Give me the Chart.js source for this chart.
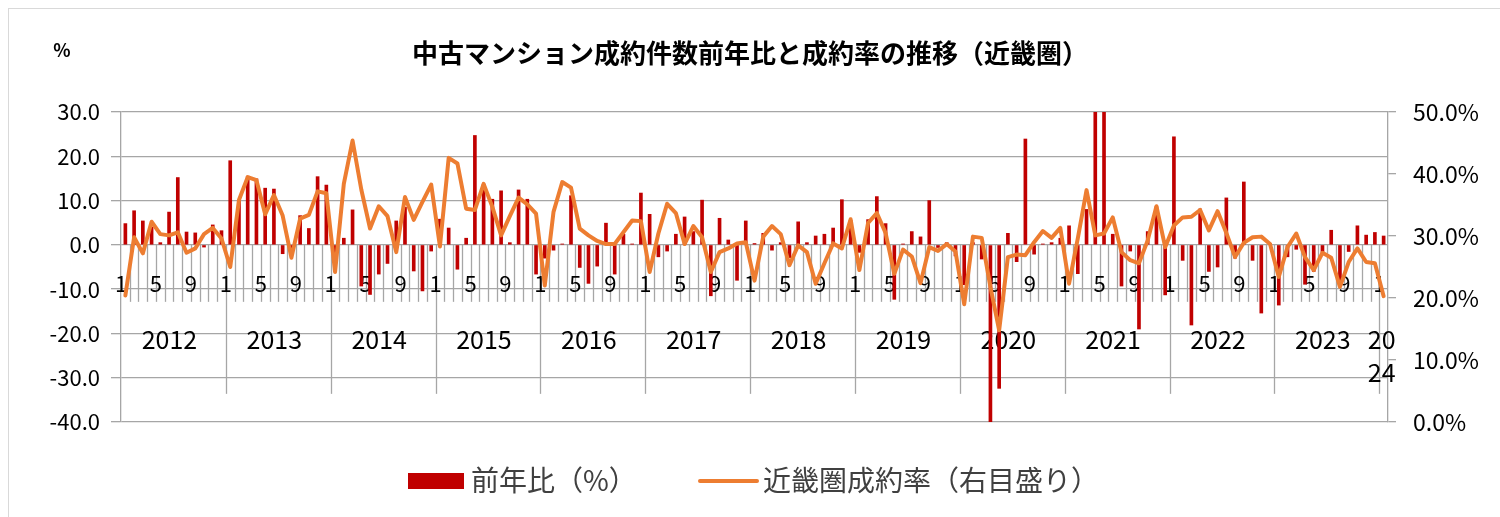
<!DOCTYPE html>
<html>
<head>
<meta charset="utf-8">
<script src="https://cdn.jsdelivr.net/npm/chart.js@4.4.1/dist/chart.umd.min.js"></script>
<style>
  html, body { margin: 0; padding: 0; background: #fff; }
  #wrap { position: relative; width: 1500px; height: 517px; }
</style>
</head>
<body>
<div id="wrap"><canvas id="myChart" width="1500" height="517"></canvas></div>
<script>
// years shown on the category axis (Jan 2012 .. Jan 2024)
const years = ['2012', '2013', '2014', '2015', '2016', '2017', '2018', '2019', '2020', '2021', '2022', '2023', '2024'];
const monthTicks = ['1', '5', '9'];
const leftTicks = [30, 20, 10, 0, -10, -20, -30, -40];
const rightTicks = [50, 40, 30, 20, 10, 0];

// 前年比（%） monthly, one row per year
const yoy2012 = [4.8, 7.7, 5.4, 4.0, 0.5, 7.4, 15.2, 2.9, 2.7, -0.5, 4.5, 3.2];
const yoy2013 = [19.0, 10.0, 15.5, 14.9, 12.8, 12.6, -2.0, -1.0, 6.6, 3.7, 15.4, 13.5];
const yoy2014 = [-2.0, 1.5, 7.9, -9.3, -11.2, -6.6, -4.2, 5.4, 8.5, -5.9, -10.4, -1.4];
const yoy2015 = [5.8, 3.8, -5.5, 1.5, 24.7, 13.7, 10.3, 12.2, 0.5, 12.4, 10.3, -6.6];
const yoy2016 = [-3.0, -1.2, 0.2, 11.1, -5.1, -8.7, -4.8, 4.9, -6.6, 2.4, 0.2, 11.7];
const yoy2017 = [6.9, -2.7, -1.4, 2.4, 6.3, 3.0, 10.1, -11.5, 6.0, 1.1, -8.0, 5.4];
const yoy2018 = [0.3, 2.6, -1.2, 0.5, -2.9, 5.2, 0.5, 2.0, 2.4, 3.8, 10.2, 5.5];
const yoy2019 = [-1.7, 5.7, 10.9, 4.8, -12.3, 0.2, 3.0, 1.8, 10.0, -0.6, 0.5, -2.5];
const yoy2020 = [-9.0, 0.5, -3.2, -40.5, -32.4, 2.6, -3.8, 23.9, -2.1, 0.2, 0.5, 1.5];
const yoy2021 = [4.3, -6.5, 8.0, 56.0, 42.0, 2.4, -9.3, -1.4, -19.0, 3.0, 8.6, -11.3];
const yoy2022 = [24.4, -3.5, -18.1, 8.1, -6.0, -5.0, 10.6, -3.0, 14.2, -3.5, -15.4, 0.3];
const yoy2023 = [-13.6, -2.7, -1.0, -8.9, -6.0, -1.7, 3.3, -8.9, -1.5, 4.3, 2.2, 2.8];
const yoy2024 = [2.0];

// 近畿圏成約率 (%) monthly
const rate2012 = [20.4, 29.8, 27.2, 32.3, 30.3, 30.1, 30.6, 27.3, 28.0, 30.3, 31.3, 29.6];
const rate2013 = [25.0, 35.8, 39.5, 39.0, 33.5, 36.6, 33.3, 26.5, 32.8, 33.4, 37.2, 36.9];
const rate2014 = [24.2, 38.4, 45.4, 37.5, 31.2, 34.8, 33.2, 27.4, 36.3, 32.6, 35.5, 38.3];
const rate2015 = [28.3, 42.6, 41.7, 34.4, 34.2, 38.4, 34.7, 30.1, 33.2, 36.2, 35.1, 33.6];
const rate2016 = [22.0, 33.9, 38.7, 37.8, 31.2, 30.1, 29.2, 28.7, 28.7, 30.6, 32.5, 32.4];
const rate2017 = [24.2, 30.4, 35.2, 33.7, 28.7, 31.6, 29.8, 24.2, 27.4, 28.0, 28.8, 29.0];
const rate2018 = [22.8, 29.9, 31.6, 30.3, 25.3, 28.5, 27.4, 22.3, 25.6, 28.8, 28.0, 32.7];
const rate2019 = [24.5, 32.1, 33.7, 30.5, 23.9, 27.8, 26.7, 22.4, 28.2, 27.6, 28.7, 27.5];
const rate2020 = [19.0, 29.9, 29.7, 21.8, 14.8, 26.6, 27.0, 26.9, 29.0, 30.8, 29.7, 31.3];
const rate2021 = [22.3, 29.6, 37.4, 30.1, 30.4, 33.0, 27.4, 26.1, 25.6, 29.3, 34.8, 28.2];
const rate2022 = [31.7, 33.0, 33.1, 34.2, 30.9, 34.0, 30.5, 26.6, 28.9, 29.8, 29.9, 28.7];
const rate2023 = [23.4, 28.2, 30.4, 26.6, 24.5, 27.3, 26.5, 21.8, 25.8, 28.0, 25.8, 25.6];
const rate2024 = [20.3];

const yoyData = [].concat(yoy2012, yoy2013, yoy2014, yoy2015, yoy2016, yoy2017, yoy2018,
    yoy2019, yoy2020, yoy2021, yoy2022, yoy2023, yoy2024);
const rateData = [].concat(rate2012, rate2013, rate2014, rate2015, rate2016, rate2017, rate2018,
    rate2019, rate2020, rate2021, rate2022, rate2023, rate2024);

// one label per month, e.g. "2012-1"
const labels = [];
years.forEach((y, k) => {
    const n = k === years.length - 1 ? 1 : 12;
    for (let m = 1; m <= n; m++) labels.push(y + '-' + m);
});

const titleText = '中古マンション成約件数前年比と成約率の推移（近畿圏）';
const legendBar = '前年比（%）';
const legendLine = '近畿圏成約率（右目盛り）';

const FONT = "'Noto Sans CJK JP', 'Noto Sans', sans-serif";
const GRID = '#a6a6a6';

/*
    Draws the category axis at the zero line (ticks, month and year labels),
    plus title, unit label, legend and outer frame
*/
const decorations = {
    id: 'decorations',
    beforeDatasetsDraw(chart) {
        const ctx = chart.ctx;
        const x = chart.scales.x;
        const y = chart.scales.y;
        const y0 = y.getPixelForValue(0);
        const step = x.getPixelForValue(1) - x.getPixelForValue(0);
        const edge = i => x.getPixelForValue(i) - step / 2;

        ctx.save();
        ctx.strokeStyle = GRID;
        ctx.lineWidth = 1.3;
        for (let i = 1; i < labels.length; i++) {
            const bx = Math.round(edge(i)) + 0.5;
            ctx.beginPath();
            ctx.moveTo(bx, y0);
            ctx.lineTo(bx, y0 + (i % 12 === 0 ? 149 : 57));
            ctx.stroke();
        }

        ctx.fillStyle = '#000';
        ctx.font = '22px ' + FONT;
        ctx.textAlign = 'center';
        ctx.textBaseline = 'middle';
        labels.forEach((lab, i) => {
            const m = lab.split('-')[1];
            if (monthTicks.includes(m)) ctx.fillText(m, edge(i), y0 + 39);
        });

        ctx.font = '25px ' + FONT;
        years.forEach((yr, k) => {
            const start = edge(k * 12);
            const end = edge(Math.min(k * 12 + 12, labels.length));
            const cx = (start + end) / 2 - 4;
            if (k === years.length - 1) {
                ctx.fillText(yr.slice(0, 2), cx + 2, y0 + 95);
                ctx.fillText(yr.slice(2), cx + 2, y0 + 128);
            } else {
                ctx.fillText(yr, cx, y0 + 95);
            }
        });
        ctx.restore();
    },
    afterDraw(chart) {
        const ctx = chart.ctx;
        ctx.save();
        // outer frame
        ctx.strokeStyle = '#d9d9d9';
        ctx.lineWidth = 1;
        ctx.strokeRect(8.5, 8.5, 1500, 520);

        // title
        ctx.fillStyle = '#000';
        ctx.textBaseline = 'middle';
        ctx.textAlign = 'center';
        ctx.font = 'bold 26px ' + FONT;
        ctx.fillText(titleText, 750, 53);

        // unit
        ctx.font = 'bold 18px ' + FONT;
        ctx.fillText('%', 62, 50);

        // legend
        ctx.textAlign = 'left';
        ctx.fillStyle = '#c00000';
        ctx.fillRect(408, 473, 56, 16);
        ctx.strokeStyle = '#ed7d31';
        ctx.lineWidth = 4;
        ctx.lineCap = 'round';
        ctx.beginPath();
        ctx.moveTo(700, 481);
        ctx.lineTo(757, 481);
        ctx.stroke();
        ctx.fillStyle = '#404040';
        ctx.font = '28px ' + FONT;
        ctx.fillText(legendBar, 471, 480);
        ctx.fillText(legendLine, 763, 480);
        ctx.restore();
    }
};

const ctx = document.getElementById('myChart').getContext('2d');
const myChart = new Chart(ctx, {
    data: {
        labels: labels,
        datasets: [{
            type: 'bar',
            label: legendBar,
            data: yoyData,
            yAxisID: 'y',
            backgroundColor: '#c00000',
            barThickness: 3,
            order: 2
        }, {
            type: 'line',
            label: legendLine,
            data: rateData,
            yAxisID: 'y1',
            borderColor: '#ed7d31',
            borderWidth: 4,
            pointRadius: 0,
            borderJoinStyle: 'round',
            borderCapStyle: 'round',
            tension: 0,
            order: 1
        }]
    },
    options: {
        responsive: false,
        animation: false,
        devicePixelRatio: 1,
        layout: { padding: { top: 112, bottom: 95, left: 0, right: 0 } },
        plugins: {
            legend: { display: false },
            title: { display: false },
            tooltip: { enabled: false }
        },
        scales: {
            x: {
                type: 'category',
                display: false,
                offset: true
            },
            y: {
                position: 'left',
                min: -40,
                max: 30,
                afterFit: s => { s.width = 121; },
                afterBuildTicks: s => { s.ticks = leftTicks.map(v => ({ value: v })); },
                ticks: {
                    padding: 11,
                    color: '#000',
                    font: { family: FONT, size: 22 },
                    callback: v => v.toFixed(1)
                },
                grid: { color: GRID, lineWidth: 1.3, tickLength: 10 },
                border: { color: GRID, width: 1.3 }
            },
            y1: {
                position: 'right',
                min: 0,
                max: 50,
                afterFit: s => { s.width = 112; },
                afterBuildTicks: s => { s.ticks = rightTicks.map(v => ({ value: v })); },
                ticks: {
                    padding: 17,
                    color: '#000',
                    font: { family: FONT, size: 23 },
                    callback: v => v.toFixed(1) + '%'
                },
                grid: { drawOnChartArea: false, color: GRID, lineWidth: 1.3, tickLength: 8 },
                border: { color: GRID, width: 1.3 }
            }
        }
    },
    plugins: [decorations]
});
</script>
</body>
</html>
